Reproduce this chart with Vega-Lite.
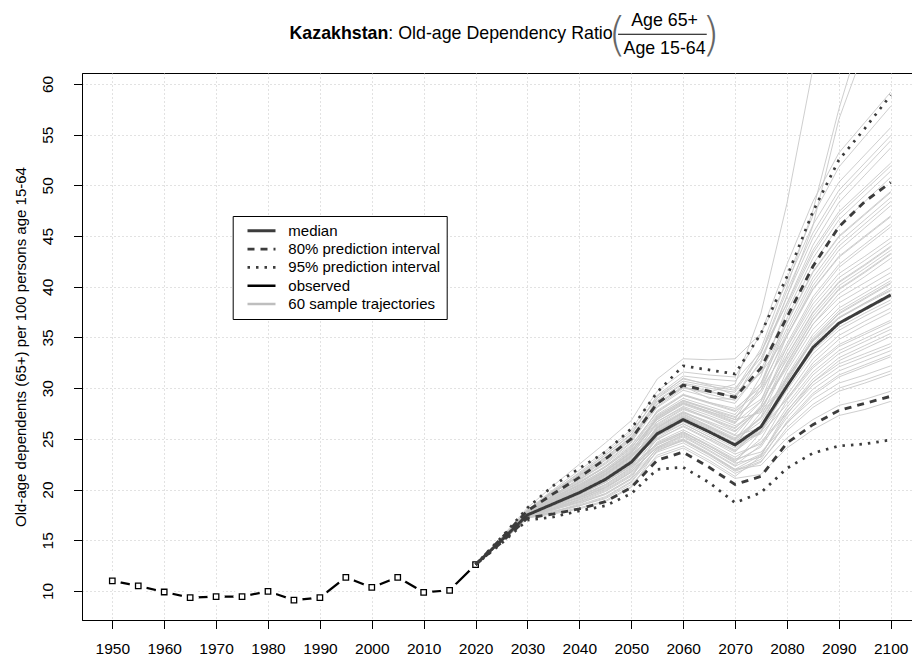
{
"$schema":"https://vega.github.io/schema/vega-lite/v6.json",
"width":830,"height":547,
"autosize":{"type":"none"},
"padding":{"left":82,"top":73,"right":0,"bottom":37},
"background":"white",
"config":{"view":{"stroke":"black","strokeWidth":1},"font":"Liberation Sans"},
"datasets":{
"obs":[{"year":1950,"v":11.0},{"year":1955,"v":10.5},{"year":1960,"v":9.9},{"year":1965,"v":9.35},{"year":1970,"v":9.45},{"year":1975,"v":9.45},{"year":1980,"v":9.97},{"year":1985,"v":9.1},{"year":1990,"v":9.35},{"year":1995,"v":11.35},{"year":2000,"v":10.35},{"year":2005,"v":11.35},{"year":2010,"v":9.87},{"year":2015,"v":10.07},{"year":2020,"v":12.6}],
"bands":[
{"s":"median","b":"med","2020":12.6,"2025":15.0,"2030":17.5,"2035":18.6,"2040":19.7,"2045":21.0,"2050":22.7,"2055":25.5,"2060":26.9,"2065":25.7,"2070":24.4,"2075":26.2,"2080":30.2,"2085":34.0,"2090":36.4,"2095":37.8,"2100":39.2},
{"s":"80% prediction interval","b":"lo80","2020":12.6,"2025":14.8,"2030":17.2,"2035":17.6,"2040":18.1,"2045":18.8,"2050":20.2,"2055":22.9,"2060":23.7,"2065":22.2,"2070":20.5,"2075":21.3,"2080":24.6,"2085":26.4,"2090":27.8,"2095":28.5,"2100":29.2},
{"s":"80% prediction interval","b":"hi80","2020":12.6,"2025":15.2,"2030":17.9,"2035":19.6,"2040":21.2,"2045":23.0,"2050":25.0,"2055":28.5,"2060":30.3,"2065":29.7,"2070":29.1,"2075":32.0,"2080":37.0,"2085":42.0,"2090":45.9,"2095":48.4,"2100":50.3},
{"s":"95% prediction interval","b":"lo95","2020":12.6,"2025":14.7,"2030":17.0,"2035":17.3,"2040":17.9,"2045":18.4,"2050":19.6,"2055":22.0,"2060":22.2,"2065":20.7,"2070":18.7,"2075":19.7,"2080":22.1,"2085":23.6,"2090":24.3,"2095":24.5,"2100":24.9},
{"s":"95% prediction interval","b":"hi95","2020":12.6,"2025":15.3,"2030":18.2,"2035":20.4,"2040":22.1,"2045":23.7,"2050":26.0,"2055":29.6,"2060":32.2,"2065":31.8,"2070":31.4,"2075":35.4,"2080":41.0,"2085":47.4,"2090":52.5,"2095":55.6,"2100":58.9}
],
"traj":[
{"t":1,"2020":12.6,"2025":15.0,"2030":17.6,"2035":18.8,"2040":19.9,"2045":21.3,"2050":23.1,"2055":26.0,"2060":27.4,"2065":26.3,"2070":25.1,"2075":27.1,"2080":31.2,"2085":35.3,"2090":37.9,"2095":39.4,"2100":40.9},
{"t":2,"2020":12.6,"2025":15.0,"2030":17.5,"2035":18.5,"2040":19.6,"2045":20.8,"2050":22.5,"2055":26.3,"2060":27.7,"2065":26.6,"2070":25.4,"2075":28.3,"2080":33.6,"2085":37.9,"2090":40.9,"2095":42.6,"2100":44.4},
{"t":3,"2020":12.6,"2025":15.1,"2030":17.7,"2035":19.0,"2040":20.3,"2045":21.8,"2050":23.6,"2055":26.7,"2060":28.2,"2065":27.3,"2070":26.3,"2075":27.8,"2080":30.6,"2085":34.7,"2090":37.3,"2095":38.8,"2100":40.3},
{"t":4,"2020":12.6,"2025":15.0,"2030":17.4,"2035":18.3,"2040":19.2,"2045":20.3,"2050":21.9,"2055":25.3,"2060":26.7,"2065":25.4,"2070":24.1,"2075":25.8,"2080":29.8,"2085":33.4,"2090":35.7,"2095":37.1,"2100":38.4},
{"t":5,"2020":12.6,"2025":15.0,"2030":17.6,"2035":18.6,"2040":19.7,"2045":21.1,"2050":22.9,"2055":25.7,"2060":27.1,"2065":25.8,"2070":24.5,"2075":25.5,"2080":28.4,"2085":31.6,"2090":33.7,"2095":34.9,"2100":36.1},
{"t":6,"2020":12.6,"2025":15.1,"2030":17.7,"2035":19.2,"2040":20.7,"2045":22.2,"2050":24.1,"2055":27.4,"2060":29.0,"2065":28.2,"2070":27.4,"2075":30.5,"2080":35.9,"2085":40.9,"2090":44.4,"2095":46.6,"2100":48.8},
{"t":7,"2020":12.6,"2025":14.9,"2030":17.3,"2035":18.0,"2040":18.8,"2045":19.8,"2050":21.3,"2055":24.7,"2060":25.9,"2065":24.6,"2070":23.2,"2075":24.7,"2080":27.7,"2085":30.9,"2090":33.0,"2095":34.2,"2100":35.4},
{"t":8,"2020":12.6,"2025":15.0,"2030":17.5,"2035":18.6,"2040":19.7,"2045":20.9,"2050":22.6,"2055":24.9,"2060":26.3,"2065":25.0,"2070":23.7,"2075":26.2,"2080":31.7,"2085":35.8,"2090":38.4,"2095":39.9,"2100":41.4},
{"t":9,"2020":12.6,"2025":15.1,"2030":17.7,"2035":19.2,"2040":20.5,"2045":22.0,"2050":23.8,"2055":27.1,"2060":28.7,"2065":27.9,"2070":27.1,"2075":29.5,"2080":34.4,"2085":39.0,"2090":42.2,"2095":44.2,"2100":46.2},
{"t":10,"2020":12.6,"2025":15.1,"2030":17.8,"2035":19.5,"2040":21.0,"2045":22.7,"2050":24.7,"2055":28.1,"2060":29.8,"2065":29.1,"2070":28.5,"2075":31.8,"2080":37.5,"2085":42.8,"2090":46.6,"2095":49.0,"2100":51.4},
{"t":11,"2020":12.6,"2025":14.9,"2030":17.3,"2035":17.8,"2040":18.5,"2045":19.3,"2050":20.8,"2055":24.1,"2060":25.2,"2065":23.8,"2070":22.3,"2075":23.5,"2080":27.1,"2085":29.9,"2090":31.7,"2095":32.7,"2100":33.7},
{"t":12,"2020":12.6,"2025":15.0,"2030":17.6,"2035":19.1,"2040":20.2,"2045":21.6,"2050":23.4,"2055":26.4,"2060":27.9,"2065":27.0,"2070":26.0,"2075":28.7,"2080":35.2,"2085":39.8,"2090":43.0,"2095":45.0,"2100":47.0},
{"t":13,"2020":12.6,"2025":15.0,"2030":17.4,"2035":18.1,"2040":19.0,"2045":20.1,"2050":21.7,"2055":25.0,"2060":26.2,"2065":24.9,"2070":23.5,"2075":24.5,"2080":27.5,"2085":30.3,"2090":32.1,"2095":33.1,"2100":34.1},
{"t":14,"2020":12.6,"2025":15.1,"2030":17.7,"2035":19.0,"2040":20.5,"2045":22.0,"2050":23.9,"2055":27.0,"2060":28.5,"2065":27.6,"2070":26.6,"2075":28.7,"2080":32.8,"2085":37.1,"2090":40.1,"2095":41.8,"2100":43.6},
{"t":15,"2020":12.6,"2025":15.2,"2030":17.9,"2035":19.7,"2040":21.4,"2045":23.2,"2050":25.2,"2055":28.8,"2060":30.5,"2065":30.0,"2070":29.6,"2075":33.4,"2080":39.6,"2085":45.3,"2090":49.5,"2095":52.2,"2100":54.9},
{"t":16,"2020":12.6,"2025":14.8,"2030":17.2,"2035":17.6,"2040":18.1,"2045":18.8,"2050":20.2,"2055":23.9,"2060":24.8,"2065":23.4,"2070":21.8,"2075":22.8,"2080":25.8,"2085":28.1,"2090":29.7,"2095":30.5,"2100":31.4},
{"t":17,"2020":12.6,"2025":15.0,"2030":17.5,"2035":18.2,"2040":19.3,"2045":20.5,"2050":22.2,"2055":24.4,"2060":25.6,"2065":24.3,"2070":22.9,"2075":25.0,"2080":29.3,"2085":32.9,"2090":35.2,"2095":36.6,"2100":37.9},
{"t":18,"2020":12.6,"2025":15.1,"2030":17.7,"2035":18.7,"2040":20.0,"2045":21.5,"2050":23.3,"2055":25.7,"2060":27.1,"2065":26.0,"2070":24.8,"2075":26.1,"2080":30.4,"2085":34.0,"2090":36.3,"2095":37.7,"2100":39.0},
{"t":19,"2020":12.6,"2025":15.1,"2030":17.8,"2035":19.7,"2040":21.2,"2045":22.9,"2050":24.9,"2055":28.4,"2060":30.1,"2065":29.6,"2070":29.2,"2075":31.5,"2080":35.1,"2085":40.1,"2090":43.6,"2095":45.8,"2100":48.0},
{"t":20,"2020":12.6,"2025":14.9,"2030":17.3,"2035":18.2,"2040":19.0,"2045":20.0,"2050":21.5,"2055":24.4,"2060":25.5,"2065":24.1,"2070":22.6,"2075":23.2,"2080":26.6,"2085":28.9,"2090":30.5,"2095":31.3,"2100":32.2},
{"t":21,"2020":12.6,"2025":15.0,"2030":17.6,"2035":18.5,"2040":19.6,"2045":21.0,"2050":22.8,"2055":26.7,"2060":28.1,"2065":27.0,"2070":25.8,"2075":28.0,"2080":32.4,"2085":36.7,"2090":39.7,"2095":41.4,"2100":43.2},
{"t":22,"2020":12.6,"2025":15.0,"2030":17.4,"2035":18.5,"2040":19.4,"2045":20.5,"2050":22.1,"2055":26.1,"2060":27.5,"2065":26.2,"2070":24.9,"2075":26.7,"2080":30.9,"2085":35.0,"2090":37.6,"2095":39.1,"2100":40.6},
{"t":23,"2020":12.6,"2025":15.2,"2030":18.0,"2035":20.0,"2040":21.9,"2045":23.8,"2050":25.9,"2055":29.7,"2060":31.6,"2065":31.3,"2070":31.1,"2075":35.4,"2080":42.2,"2085":48.4,"2090":53.2,"2095":56.2,"2100":59.2},
{"t":24,"2020":12.6,"2025":14.9,"2030":17.3,"2035":18.0,"2040":18.7,"2045":19.5,"2050":21.0,"2055":24.1,"2060":25.0,"2065":23.6,"2070":22.0,"2075":22.4,"2080":25.1,"2085":26.9,"2090":28.3,"2095":28.9,"2100":29.7},
{"t":25,"2020":12.6,"2025":15.1,"2030":17.7,"2035":19.4,"2040":20.7,"2045":22.2,"2050":24.0,"2055":27.8,"2060":29.4,"2065":28.6,"2070":27.8,"2075":30.5,"2080":36.9,"2085":42.2,"2090":46.0,"2095":48.4,"2100":50.8},
{"t":26,"2020":12.6,"2025":15.0,"2030":17.5,"2035":18.4,"2040":19.5,"2045":20.7,"2050":22.4,"2055":26.2,"2060":27.6,"2065":26.5,"2070":25.3,"2075":26.1,"2080":28.9,"2085":32.5,"2090":34.8,"2095":36.2,"2100":37.5},
{"t":27,"2020":12.6,"2025":15.1,"2030":17.7,"2035":19.5,"2040":21.0,"2045":22.5,"2050":24.4,"2055":27.6,"2060":29.3,"2065":28.6,"2070":28.0,"2075":30.1,"2080":35.1,"2085":39.7,"2090":42.9,"2095":44.9,"2100":46.9},
{"t":28,"2020":12.6,"2025":14.9,"2030":17.3,"2035":17.8,"2040":18.6,"2045":19.6,"2050":21.1,"2055":25.3,"2060":26.5,"2065":25.2,"2070":23.8,"2075":25.7,"2080":30.1,"2085":33.7,"2090":36.0,"2095":37.4,"2100":38.7},
{"t":29,"2020":12.6,"2025":15.0,"2030":17.6,"2035":18.9,"2040":20.0,"2045":21.4,"2050":23.2,"2055":26.1,"2060":27.6,"2065":26.7,"2070":25.7,"2075":28.0,"2080":32.2,"2085":36.3,"2090":38.9,"2095":40.4,"2100":41.9},
{"t":30,"2020":12.6,"2025":15.2,"2030":17.9,"2035":19.4,"2040":21.1,"2045":22.9,"2050":24.9,"2055":28.4,"2060":30.1,"2065":29.4,"2070":28.8,"2075":31.6,"2080":36.4,"2085":41.4,"2090":44.9,"2095":47.1,"2100":49.3},
{"t":31,"2020":12.6,"2025":14.8,"2030":17.2,"2035":17.9,"2040":18.4,"2045":19.1,"2050":20.5,"2055":23.2,"2060":24.1,"2065":22.7,"2070":21.1,"2075":21.5,"2080":24.1,"2085":25.9,"2090":27.3,"2095":27.9,"2100":28.7},
{"t":32,"2020":12.6,"2025":15.1,"2030":17.7,"2035":18.9,"2040":20.2,"2045":21.7,"2050":23.5,"2055":27.1,"2060":28.6,"2065":27.7,"2070":26.7,"2075":29.8,"2080":35.5,"2085":40.5,"2090":44.0,"2095":46.2,"2100":48.4},
{"t":33,"2020":12.6,"2025":15.0,"2030":17.4,"2035":18.4,"2040":19.3,"2045":20.4,"2050":22.0,"2055":24.6,"2060":25.7,"2065":24.3,"2070":22.8,"2075":24.2,"2080":28.1,"2085":31.3,"2090":33.4,"2095":34.6,"2100":35.8},
{"t":34,"2020":12.6,"2025":15.1,"2030":17.8,"2035":19.1,"2040":20.6,"2045":22.3,"2050":24.3,"2055":27.7,"2060":29.3,"2065":28.5,"2070":27.7,"2075":29.8,"2080":34.0,"2085":38.3,"2090":41.3,"2095":43.0,"2100":44.8},
{"t":35,"2020":12.6,"2025":15.0,"2030":17.5,"2035":18.8,"2040":19.9,"2045":21.1,"2050":22.8,"2055":25.5,"2060":26.9,"2065":25.6,"2070":24.3,"2075":25.7,"2080":29.0,"2085":32.2,"2090":34.3,"2095":35.5,"2100":36.7},
{"t":36,"2020":12.6,"2025":15.3,"2030":18.2,"2035":20.4,"2040":22.5,"2045":24.6,"2050":26.8,"2055":30.9,"2060":32.9,"2065":32.8,"2070":32.9,"2075":35.4,"2080":40.4,"2085":46.1,"2090":50.3,"2095":53.0,"2100":55.7},
{"t":37,"2020":12.6,"2025":15.0,"2030":17.6,"2035":18.7,"2040":19.8,"2045":21.2,"2050":23.0,"2055":25.1,"2060":26.5,"2065":25.2,"2070":23.9,"2075":26.0,"2080":30.7,"2085":34.8,"2090":37.4,"2095":38.9,"2100":40.4},
{"t":38,"2020":12.6,"2025":14.9,"2030":17.3,"2035":17.7,"2040":18.4,"2045":19.2,"2050":20.7,"2055":23.8,"2060":24.9,"2065":23.5,"2070":22.0,"2075":23.4,"2080":27.4,"2085":30.6,"2090":32.7,"2095":33.9,"2100":35.1},
{"t":39,"2020":12.6,"2025":15.1,"2030":17.7,"2035":19.3,"2040":20.8,"2045":22.3,"2050":24.2,"2055":26.9,"2060":28.5,"2065":27.7,"2070":26.9,"2075":31.2,"2080":38.0,"2085":43.3,"2090":47.1,"2095":49.5,"2100":51.9},
{"t":40,"2020":12.6,"2025":14.9,"2030":17.3,"2035":18.1,"2040":18.9,"2045":19.9,"2050":21.4,"2055":24.0,"2060":24.9,"2065":23.5,"2070":21.9,"2075":23.0,"2080":26.7,"2085":29.5,"2090":31.3,"2095":32.3,"2100":33.3},
{"t":41,"2020":12.6,"2025":15.1,"2030":17.7,"2035":18.8,"2040":20.1,"2045":21.6,"2050":23.4,"2055":25.4,"2060":26.8,"2065":25.7,"2070":24.5,"2075":27.6,"2080":33.1,"2085":37.4,"2090":40.4,"2095":42.1,"2100":43.9},
{"t":42,"2020":12.6,"2025":15.2,"2030":17.9,"2035":19.9,"2040":21.6,"2045":23.4,"2050":25.4,"2055":29.3,"2060":31.2,"2065":30.9,"2070":30.7,"2075":33.6,"2080":38.3,"2085":43.6,"2090":47.4,"2095":49.8,"2100":52.2},
{"t":43,"2020":12.6,"2025":15.0,"2030":17.4,"2035":18.2,"2040":19.1,"2045":20.2,"2050":21.8,"2055":24.2,"2060":25.4,"2065":24.1,"2070":22.7,"2075":25.7,"2080":31.1,"2085":34.7,"2090":37.0,"2095":38.4,"2100":39.7},
{"t":44,"2020":12.6,"2025":15.0,"2030":17.6,"2035":19.3,"2040":20.4,"2045":21.8,"2050":23.6,"2055":26.9,"2060":28.4,"2065":27.5,"2070":26.5,"2075":30.2,"2080":36.5,"2085":41.5,"2090":45.0,"2095":47.2,"2100":49.4},
{"t":45,"2020":12.6,"2025":15.0,"2030":17.5,"2035":18.4,"2040":19.5,"2045":20.7,"2050":22.4,"2055":24.5,"2060":25.7,"2065":24.4,"2070":23.0,"2075":23.7,"2080":26.5,"2085":29.3,"2090":31.1,"2095":32.1,"2100":33.1},
{"t":46,"2020":12.6,"2025":15.1,"2030":17.8,"2035":19.9,"2040":21.4,"2045":23.1,"2050":25.1,"2055":28.7,"2060":30.4,"2065":29.7,"2070":29.1,"2075":32.7,"2080":39.1,"2085":44.8,"2090":49.0,"2095":51.7,"2100":54.4},
{"t":47,"2020":12.6,"2025":14.8,"2030":17.2,"2035":17.7,"2040":18.2,"2045":18.9,"2050":20.3,"2055":23.4,"2060":24.3,"2065":22.9,"2070":21.3,"2075":23.3,"2080":27.8,"2085":30.6,"2090":32.4,"2095":33.4,"2100":34.4},
{"t":48,"2020":12.6,"2025":15.1,"2030":17.7,"2035":19.1,"2040":20.4,"2045":21.9,"2050":23.7,"2055":26.5,"2060":28.0,"2065":27.1,"2070":26.1,"2075":28.0,"2080":32.0,"2085":36.3,"2090":39.3,"2095":41.0,"2100":42.8},
{"t":49,"2020":12.6,"2025":15.2,"2030":18.0,"2035":19.6,"2040":21.5,"2045":23.4,"2050":25.5,"2055":29.2,"2060":30.9,"2065":30.4,"2070":30.0,"2075":33.0,"2080":38.4,"2085":44.1,"2090":48.3,"2095":51.0,"2100":53.7},
{"t":50,"2020":12.6,"2025":14.9,"2030":17.3,"2035":18.4,"2040":19.2,"2045":20.2,"2050":21.7,"2055":24.2,"2060":25.3,"2065":23.9,"2070":22.4,"2075":24.4,"2080":28.8,"2085":32.0,"2090":34.1,"2095":35.3,"2100":36.5},
{"t":51,"2020":12.6,"2025":15.1,"2030":17.7,"2035":18.8,"2040":20.3,"2045":21.8,"2050":23.7,"2055":27.3,"2060":28.8,"2065":27.9,"2070":26.9,"2075":27.6,"2080":30.2,"2085":34.3,"2090":36.9,"2095":38.4,"2100":39.9},
{"t":52,"2020":12.6,"2025":15.0,"2030":17.5,"2035":18.9,"2040":20.0,"2045":21.2,"2050":22.9,"2055":25.8,"2060":27.2,"2065":26.1,"2070":24.9,"2075":28.2,"2080":34.1,"2085":38.7,"2090":41.9,"2095":43.9,"2100":45.9},
{"t":53,"2020":12.6,"2025":15.0,"2030":17.4,"2035":18.7,"2040":19.6,"2045":20.7,"2050":22.3,"2055":25.8,"2060":27.2,"2065":25.9,"2070":24.6,"2075":27.2,"2080":32.5,"2085":36.8,"2090":39.8,"2095":41.5,"2100":43.3},
{"t":54,"2020":12.6,"2025":14.9,"2030":17.3,"2035":18.1,"2040":18.8,"2045":19.6,"2050":21.1,"2055":23.7,"2060":24.6,"2065":23.2,"2070":21.6,"2075":22.7,"2080":26.1,"2085":28.4,"2090":30.0,"2095":30.8,"2100":31.7},
{"t":55,"2020":12.6,"2025":15.0,"2030":17.6,"2035":19.0,"2040":20.1,"2045":21.5,"2050":23.3,"2055":25.9,"2060":27.3,"2065":26.2,"2070":25.0,"2075":27.0,"2080":31.0,"2085":34.6,"2090":36.9,"2095":38.3,"2100":39.6},
{"t":56,"2020":12.6,"2025":15.1,"2030":17.8,"2035":19.4,"2040":20.9,"2045":22.6,"2050":24.6,"2055":29.0,"2060":30.7,"2065":30.2,"2070":29.8,"2075":33.9,"2080":40.8,"2085":47.0,"2090":51.8,"2095":54.8,"2100":57.8},
{"t":57,"2020":12.6,"2025":15.1,"2030":17.7,"2035":18.6,"2040":19.9,"2045":21.4,"2050":23.2,"2055":27.2,"2060":28.8,"2065":28.0,"2070":27.2,"2075":28.9,"2080":33.2,"2085":37.5,"2090":40.5,"2095":42.2,"2100":44.0},
{"t":58,"2020":12.6,"2025":15.2,"2030":17.9,"2035":19.7,"2040":21.4,"2045":23.2,"2050":25.2,"2055":28.2,"2060":30.0,"2065":29.6,"2070":30.4,"2075":37.4,"2080":48.2,"2085":61.5,"2090":70.0,"2095":76.0,"2100":82.0},
{"t":59,"2020":12.6,"2025":15.1,"2030":17.8,"2035":19.8,"2040":21.3,"2045":23.0,"2050":25.0,"2055":28.5,"2060":30.2,"2065":29.0,"2070":28.9,"2075":33.5,"2080":40.0,"2085":47.5,"2090":57.5,"2095":66.0,"2100":73.0},
{"t":60,"2020":12.6,"2025":15.2,"2030":18.0,"2035":19.8,"2040":21.7,"2045":23.6,"2050":25.7,"2055":29.0,"2060":31.0,"2065":30.3,"2070":29.3,"2075":32.5,"2080":39.0,"2085":46.0,"2090":56.5,"2095":63.5,"2100":69.0}
]
},
"layer":[
{"data":{"name":"traj"},
 "transform":[{"fold":["2020","2025","2030","2035","2040","2045","2050","2055","2060","2065","2070","2075","2080","2085","2090","2095","2100"],"as":["year","v"]}],
 "mark":{"type":"line","clip":true,"color":"#c8c8c8","strokeWidth":0.9},
 "encoding":{
  "x":{"field":"year","type":"quantitative","scale":{"domain":[1944.16,2104.1],"nice":false,"zero":false},
   "axis":{"orient":"bottom","values":[1950,1960,1970,1980,1990,2000,2010,2020,2030,2040,2050,2060,2070,2080,2090,2100],"format":"d","title":null,"grid":true,"gridColor":"#c4c4c4","gridDash":[1,3],"gridWidth":1,"domainColor":"black","domainWidth":1,"tickColor":"black","tickSize":8.5,"tickWidth":1,"labelFont":"Liberation Sans","labelFontSize":15.5,"labelColor":"black","labelPadding":12.5,"labelFlush":false,"labelOverlap":false}},
  "y":{"field":"v","type":"quantitative","scale":{"domain":[7.14,61.08],"nice":false,"zero":false},
   "axis":{"orient":"left","values":[10,15,20,25,30,35,40,45,50,55,60],"title":"Old-age dependents (65+) per 100 persons age 15-64","titleFont":"Liberation Sans","titleFontSize":15,"titleFontWeight":"normal","titleColor":"black","titlePadding":12,"grid":true,"gridColor":"#c4c4c4","gridDash":[1,3],"gridWidth":1,"domainColor":"black","domainWidth":1,"tickColor":"black","tickSize":8.5,"tickWidth":1,"labelAngle":270,"labelAlign":"center","labelBaseline":"bottom","labelPadding":18,"labelFont":"Liberation Sans","labelFontSize":15.5,"labelColor":"black","labelFlush":false,"labelOverlap":false}},
  "detail":{"field":"t","type":"nominal"}
 }},
{"data":{"name":"obs"},
 "mark":{"type":"line","color":"black","strokeWidth":2.2},
 "encoding":{"x":{"field":"year","type":"quantitative","axis":null},"y":{"field":"v","type":"quantitative","axis":null}}},
{"data":{"name":"obs"},
 "mark":{"type":"point","shape":"circle","filled":true,"color":"white","size":300,"opacity":1},
 "encoding":{"x":{"field":"year","type":"quantitative","axis":null},"y":{"field":"v","type":"quantitative","axis":null}}},
{"data":{"name":"obs"},
 "mark":{"type":"point","shape":"square","filled":true,"fill":"white","stroke":"black","strokeWidth":1.3,"size":30,"opacity":1},
 "encoding":{"x":{"field":"year","type":"quantitative","axis":null},"y":{"field":"v","type":"quantitative","axis":null}}},
{"data":{"name":"bands"},
 "transform":[{"fold":["2020","2025","2030","2035","2040","2045","2050","2055","2060","2065","2070","2075","2080","2085","2090","2095","2100"],"as":["year","v"]}],
 "mark":{"type":"line"},
 "encoding":{
  "x":{"field":"year","type":"quantitative","axis":null},
  "y":{"field":"v","type":"quantitative","axis":null},
  "detail":{"field":"b","type":"nominal"},
  "color":{"field":"s","type":"nominal","scale":{"domain":["median","80% prediction interval","95% prediction interval","observed","60 sample trajectories"],"range":["#3c3c3c","#3c3c3c","#3c3c3c","#000000","#bebebe"]},
   "legend":{"title":null,"orient":"none","legendX":150.7,"legendY":143,"symbolType":"M0,0H4","symbolSize":196,"labelFont":"Liberation Sans","labelFontSize":15,"labelColor":"black","labelOffset":32.3,"labelLimit":0,"padding":6.3,"rowPadding":1.3,"strokeColor":"black","fillColor":"white"}},
  "strokeDash":{"field":"s","type":"nominal","scale":{"domain":["median","80% prediction interval","95% prediction interval","observed","60 sample trajectories"],"range":[[1,0],[7,6],[2.5,6],[1,0],[1,0]]},
   "legend":{"title":null,"orient":"none","legendX":150.7,"legendY":143,"symbolType":"M0,0H4","symbolSize":196,"labelFont":"Liberation Sans","labelFontSize":15,"labelColor":"black","labelOffset":32.3,"labelLimit":0,"padding":6.3,"rowPadding":1.3,"strokeColor":"black","fillColor":"white"}},
  "strokeWidth":{"field":"s","type":"nominal","scale":{"domain":["median","80% prediction interval","95% prediction interval","observed","60 sample trajectories"],"range":[3,2.5,2.5,2,1]},
   "legend":{"title":null,"orient":"none","legendX":150.7,"legendY":143,"symbolType":"M0,0H4","symbolSize":196,"labelFont":"Liberation Sans","labelFontSize":15,"labelColor":"black","labelOffset":32.3,"labelLimit":0,"padding":6.3,"rowPadding":1.3,"strokeColor":"black","fillColor":"white"}}
 }},
{"data":{"values":[{}]},
 "mark":{"type":"text","text":"Kazakhstan","font":"Liberation Sans","fontSize":17.8,"fontWeight":"bold","align":"right","baseline":"middle","color":"black"},
 "encoding":{"x":{"datum":2003.19,"type":"quantitative","axis":null},"y":{"datum":64.9,"type":"quantitative","axis":null}}},
{"data":{"values":[{}]},
 "mark":{"type":"text","text":": Old-age Dependency Ratio","font":"Liberation Sans","fontSize":17.8,"fontWeight":"normal","align":"left","baseline":"middle","color":"black"},
 "encoding":{"x":{"datum":2003.19,"type":"quantitative","axis":null},"y":{"datum":64.9,"type":"quantitative","axis":null}}},
{"data":{"values":[{}]},
 "mark":{"type":"text","text":"Age 65+","font":"Liberation Sans","fontSize":17.8,"align":"center","baseline":"middle","color":"black"},
 "encoding":{"x":{"datum":2056.42,"type":"quantitative","axis":null},"y":{"datum":66.24,"type":"quantitative","axis":null}}},
{"data":{"values":[{}]},
 "mark":{"type":"text","text":"Age 15-64","font":"Liberation Sans","fontSize":17.8,"align":"center","baseline":"middle","color":"black"},
 "encoding":{"x":{"datum":2056.42,"type":"quantitative","axis":null},"y":{"datum":63.42,"type":"quantitative","axis":null}}},
{"data":{"values":[{}]},
 "mark":{"type":"rule","color":"black","strokeWidth":1},
 "encoding":{"x":{"datum":2047.46,"type":"quantitative","axis":null},"x2":{"datum":2064.55},"y":{"datum":64.9,"type":"quantitative","axis":null}}},
{"data":{"values":[{}]},
 "mark":{"type":"text","text":"(","font":"DejaVu Sans","fontSize":46,"fontWeight":200,"align":"center","baseline":"middle","color":"#666666"},
 "encoding":{"x":{"datum":2047.3,"type":"quantitative","axis":null},"y":{"datum":64.75,"type":"quantitative","axis":null}}},
{"data":{"values":[{}]},
 "mark":{"type":"text","text":")","font":"DejaVu Sans","fontSize":46,"fontWeight":200,"align":"center","baseline":"middle","color":"#666666"},
 "encoding":{"x":{"datum":2065.3,"type":"quantitative","axis":null},"y":{"datum":64.75,"type":"quantitative","axis":null}}}
],
"resolve":{"axis":{"x":"independent","y":"independent"}}
}
